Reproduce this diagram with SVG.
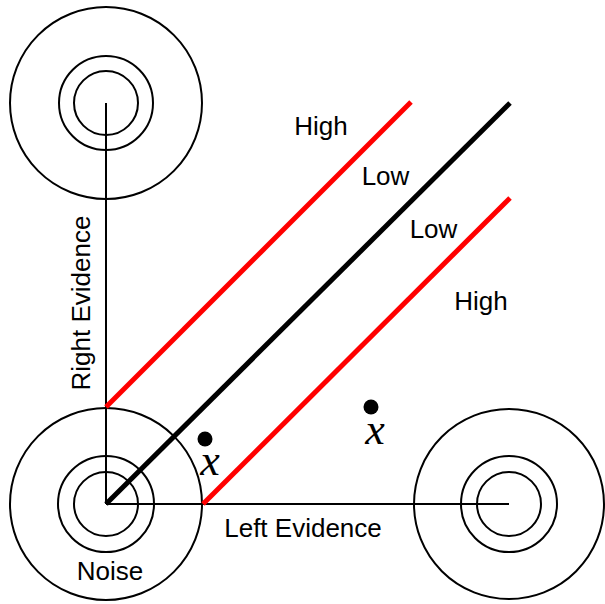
<svg xmlns="http://www.w3.org/2000/svg" width="605" height="604" viewBox="0 0 605 604">
<style>
.ring{fill:none;stroke:#000;stroke-width:2}
.axis{stroke:#000;stroke-width:2}
.bound{stroke-width:5;stroke-linecap:butt}
.lbl{font-family:"Liberation Sans",Arial,sans-serif;font-size:26px;fill:#000;text-anchor:middle}
.var{font-family:"Liberation Serif","Times New Roman",serif;font-style:italic;font-size:44px;fill:#000;text-anchor:middle}
</style>
<rect width="605" height="604" fill="#fff"/>
<g id="right-stimulus">
<circle class="ring" cx="106" cy="103" r="96"/>
<circle class="ring" cx="106" cy="103" r="47"/>
<circle class="ring" cx="106" cy="103" r="32"/>
</g>
<g id="noise">
<circle class="ring" cx="106" cy="504" r="96"/>
<circle class="ring" cx="106" cy="504" r="48"/>
<circle class="ring" cx="106" cy="504" r="32"/>
<text class="lbl" x="110" y="580">Noise</text>
</g>
<g id="left-stimulus">
<circle class="ring" cx="509" cy="504" r="95"/>
<circle class="ring" cx="509" cy="504" r="48"/>
<circle class="ring" cx="509" cy="504" r="32"/>
</g>
<g id="connectors">
<line class="axis" x1="106" y1="103" x2="106" y2="504"/>
<line class="axis" x1="106" y1="504" x2="509" y2="504"/>
<line class="bound" stroke="#f00" x1="106" y1="407" x2="411" y2="102"/>
<line class="bound" stroke="#000" x1="106" y1="504" x2="510" y2="103"/>
<line class="bound" stroke="#f00" x1="203" y1="504" x2="510" y2="198"/>
</g>
<g id="labels">
<text class="lbl" x="90" y="303" transform="rotate(-90 90 303)">Right Evidence</text>
<text class="lbl" x="303" y="537">Left Evidence</text>
<text class="lbl" x="321" y="135">High</text>
<text class="lbl" x="385.5" y="185">Low</text>
<text class="lbl" x="433.5" y="238">Low</text>
<text class="lbl" x="481" y="310">High</text>
</g>
<g id="point-a">
<circle cx="205" cy="439" r="7.5" fill="#000"/>
<text class="var" x="210" y="475">x</text>
</g>
<g id="point-b">
<circle cx="371" cy="407" r="7.5" fill="#000"/>
<text class="var" x="375" y="444">x</text>
</g>
</svg>
